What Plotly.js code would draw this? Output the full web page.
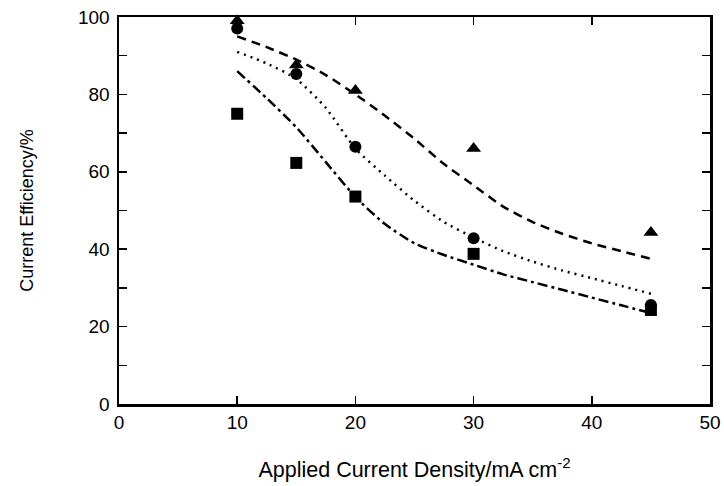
<!DOCTYPE html>
<html>
<head>
<meta charset="utf-8">
<script src="https://cdn.plot.ly/plotly-3.0.1.min.js"></script>
<style>html,body{margin:0;padding:0;background:#fff;}#plot{width:724px;height:486px;}</style>
</head>
<body>
<div id="plot"></div>
<script>
// Measured points
const xPts = [10, 15, 20, 30, 45];
const triangleY = [99, 87.6, 81, 66, 44.3];
const circleY = [97, 85.3, 66.5, 42.8, 25.6];
const squareY = [75, 62.3, 53.6, 38.8, 24.3];

// Fitted curves
const curveX = [10, 12.5, 15, 17.5, 20, 22.5, 25, 27.5, 30, 32.5, 35, 37.5, 40, 42.5, 45];
const dashedY = [95, 92.2, 89, 85, 80, 74.5, 68.5, 62, 56.5, 51, 47, 44, 41.5, 39.5, 37.5];
const dottedY = [91, 88, 84, 76.5, 66, 59, 52.5, 47, 43, 39.5, 36.8, 34.5, 32.5, 30.5, 28.5];
const dashDotY = [86, 79, 71.5, 62.5, 53.5, 46.5, 41.5, 38.5, 36, 33.5, 31.5, 29.5, 27.5, 25.5, 23.5];

const xTicks = [0, 10, 20, 30, 40, 50];
const yTicks = [0, 10, 20, 30, 40, 50, 60, 70, 80, 90, 100];
const yTickText = ['0', '', '20', '', '40', '', '60', '', '80', '', '100'];

const lineStyle = (dash) => ({color: '#000', width: 2.5, dash: dash, shape: 'spline', smoothing: 0.6});

const traces = [
  {x: curveX, y: dashedY, mode: 'lines', line: lineStyle('9px,6px'), hoverinfo: 'skip'},
  {x: curveX, y: dottedY, mode: 'lines', line: lineStyle('2px,5px'), hoverinfo: 'skip'},
  {x: curveX, y: dashDotY, mode: 'lines', line: lineStyle('10px,4px,3px,4px'), hoverinfo: 'skip'},
  {x: xPts, y: squareY, mode: 'markers', marker: {symbol: 'square', size: 12, color: '#000'}, cliponaxis: false},
  {x: xPts, y: circleY, mode: 'markers', marker: {symbol: 'circle', size: 12, color: '#000'}, cliponaxis: false},
  {x: xPts, y: triangleY, mode: 'markers', marker: {symbol: 'triangle-up', size: 13, color: '#000'}, cliponaxis: false}
];

const fontFam = '"Liberation Sans", Arial, Helvetica, sans-serif';

const layout = {
  width: 724, height: 486,
  margin: {l: 119, r: 14, t: 17, b: 82},
  paper_bgcolor: '#fff', plot_bgcolor: '#fff',
  showlegend: false,
  font: {family: fontFam, size: 18, color: '#000'},
  xaxis: {
    range: [0, 50], tickvals: xTicks, ticktext: xTicks.map(String),
    ticks: 'inside', ticklen: 8, tickwidth: 1.5, tickcolor: '#000',
    showline: true, linewidth: 2.5, linecolor: '#000', mirror: 'ticks',
    showgrid: false, zeroline: false,
    tickfont: {family: fontFam, size: 19},
    title: {text: 'Applied Current Density/mA cm<sup>-2</sup>', font: {family: fontFam, size: 21.5}, standoff: 30}
  },
  yaxis: {
    range: [0, 100], tickvals: yTicks, ticktext: yTickText,
    ticks: 'inside', ticklen: 8, tickwidth: 1.5, tickcolor: '#000',
    showline: true, linewidth: 2.5, linecolor: '#000', mirror: 'ticks',
    showgrid: false, zeroline: false, ticklabelstandoff: 3,
    tickfont: {family: fontFam, size: 19},
    title: {text: 'Current Efficiency/%', font: {family: fontFam, size: 18}, standoff: 40}
  }
};

Plotly.newPlot('plot', traces, layout, {displayModeBar: false, staticPlot: true});
</script>
</body>
</html>
